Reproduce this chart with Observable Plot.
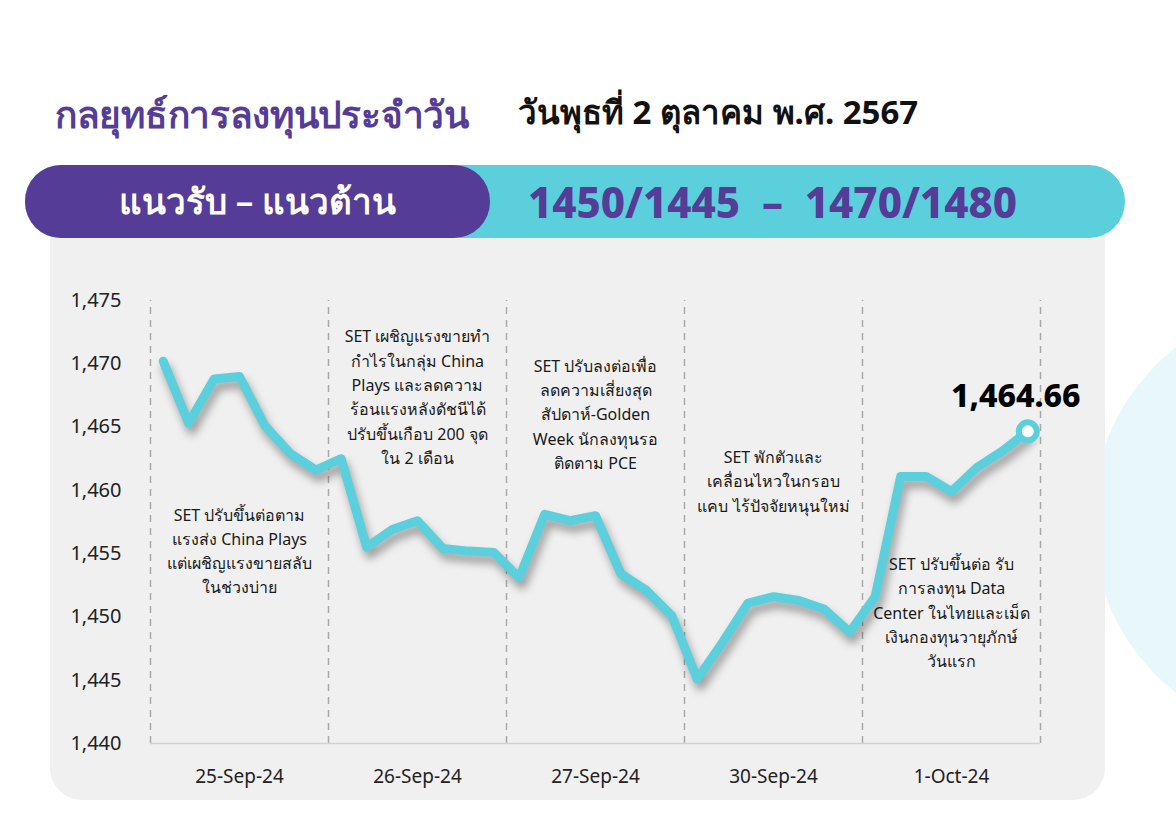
<!DOCTYPE html>
<html><head><meta charset="utf-8">
<script src="https://cdn.jsdelivr.net/npm/d3@7"></script>
<script src="https://cdn.jsdelivr.net/npm/@observablehq/plot@0.6"></script>
<style>
body{margin:0;background:#fff;font-family:"Noto Sans",sans-serif;}
#page{position:relative;width:1176px;height:832px;overflow:hidden;background:#fff}
#deco{position:absolute;left:1092px;top:300px;width:440px;height:440px;border-radius:50%;background:#e8f7fa}
#title{position:absolute;left:55px;top:85px;font-size:37px;font-weight:700;color:#553c96;white-space:nowrap;letter-spacing:-0.3px}
#date{position:absolute;left:518px;top:86px;font-size:33px;font-weight:700;color:#111;white-space:nowrap}
#panel{position:absolute;left:50px;top:220px;width:1055px;height:580px;background:#f0f0f0;border-radius:0 0 32px 32px}
#bar{position:absolute;left:25px;top:165px;width:1100px;height:73px;background:#5ccfdd;border-radius:36px}
#pill{position:absolute;left:25px;top:165px;width:465px;height:73px;background:#553c96;border-radius:36px;color:#fff;font-size:35px;font-weight:600;display:flex;align-items:center;justify-content:center;white-space:nowrap}
#levels{position:absolute;left:528px;top:165px;height:73px;display:flex;align-items:center;font-size:42px;font-weight:800;color:#553c96;white-space:pre}
#chart{position:absolute;left:0;top:260px}
</style></head><body>
<div id="page">
  <div id="deco"></div>
  <div id="title"></div>
  <div id="date"></div>
  <div id="panel"></div>
  <div id="bar"></div>
  <div id="pill"></div>
  <div id="levels"></div>
  <div id="chart"></div>
</div>
<script>
const titleText = "กลยุทธ์การลงทุนประจำวัน";
const dateText = "วันพุธที่ 2 ตุลาคม พ.ศ. 2567";
const pillText = "แนวรับ – แนวต้าน";
const levelsText = "1450/1445  –  1470/1480";

const days = ["25-Sep-24", "26-Sep-24", "27-Sep-24", "30-Sep-24", "1-Oct-24"];
const pointsPerDay = 7;
const setValues = [
  1470.2, 1465.3, 1468.8, 1469.0, 1465.1, 1462.9, 1461.6,
  1462.5, 1455.5, 1456.9, 1457.6, 1455.4, 1455.2, 1455.1,
  1453.1, 1458.1, 1457.6, 1458.0, 1453.4, 1452.1, 1450.1,
  1445.1, 1448.0, 1451.1, 1451.6, 1451.3, 1450.6, 1448.8,
  1451.6, 1461.1, 1461.1, 1459.9, 1461.8, 1463.1, 1464.66
];
const lastLabel = "1,464.66";
const noteDays = [0, 1, 2, 3, 4];
const noteLevels = [1455.35, 1467.5, 1466.15, 1460.86, 1450.47];
const noteTexts = [
  "SET ปรับขึ้นต่อตาม\nแรงส่ง China Plays\nแต่เผชิญแรงขายสลับ\nในช่วงบ่าย",
  "SET เผชิญแรงขายทำ\nกำไรในกลุ่ม China\nPlays และลดความ\nร้อนแรงหลังดัชนีได้\nปรับขึ้นเกือบ 200 จุด\nใน 2 เดือน",
  "SET ปรับลงต่อเพื่อ\nลดความเสี่ยงสุด\nสัปดาห์-Golden\nWeek นักลงทุนรอ\nติดตาม PCE",
  "SET พักตัวและ\nเคลื่อนไหวในกรอบ\nแคบ ไร้ปัจจัยหนุนใหม่",
  "SET ปรับขึ้นต่อ รับ\nการลงทุน Data\nCenter ในไทยและเม็ด\nเงินกองทุนวายุภักษ์\nวันแรก"
];

document.getElementById("title").textContent = titleText;
document.getElementById("date").textContent = dateText;
document.getElementById("pill").textContent = pillText;
document.getElementById("levels").textContent = levelsText;

const data = setValues.map((v, i) => ({i, v}));
const last = data[data.length - 1];
const bounds = d3.range(days.length + 1).map(d => d * pointsPerDay - 0.5);
const dayLabels = days.map((d, k) => ({x: k * pointsPerDay + (pointsPerDay - 1) / 2, label: d}));
const notes = noteTexts.map((t, k) => ({x: noteDays[k] * pointsPerDay + (pointsPerDay - 1) / 2, y: noteLevels[k], text: t}));
const font = '"Noto Sans", sans-serif';
const cyan = "#5ccfdd";

const chart = Plot.plot({
  width: 1176, height: 560,
  marginLeft: 150, marginRight: 136, marginTop: 40, marginBottom: 77,
  style: {background: "transparent", fontFamily: font, fontSize: "20px", color: "#222", overflow: "visible"},
  x: {domain: [-0.5, setValues.length - 0.5], axis: null},
  y: {domain: [1440, 1475], ticks: 7, tickFormat: d3.format(","), tickSize: 0, tickPadding: 29, label: null},
  marks: [
    Plot.ruleX(bounds, {y1: 1440, y2: 1475, stroke: "#a9a9a9", strokeWidth: 1.5, strokeDasharray: "7,6"}),
    Plot.ruleY([1440], {stroke: "#d2d2d2", strokeWidth: 1.5}),
    Plot.text(dayLabels, {x: "x", y: 1440, text: "label", dy: 33, fontSize: 19, fill: "#222"}),
    Plot.text(notes, {x: "x", y: "y", text: "text", fontSize: 16, lineHeight: 1.52, fill: "#1a1a1a"}),
    Plot.line(data, {x: "i", y: "v", stroke: cyan, strokeWidth: 9, strokeLinejoin: "round", strokeLinecap: "round"}),
    Plot.dot([last], {x: "i", y: "v", r: 9, fill: "#fff", stroke: cyan, strokeWidth: 6}),
    Plot.text([last], {x: "i", y: "v", text: () => lastLabel, dx: -12, dy: -35, fontSize: 32, fontWeight: 800, fill: "#000"})
  ]
});
document.getElementById("chart").appendChild(chart);
d3.select(chart).selectAll('g[aria-label="line"] path').style("filter", "drop-shadow(3px 7px 4px rgba(0,0,0,0.35))");
</script>
</body></html>
